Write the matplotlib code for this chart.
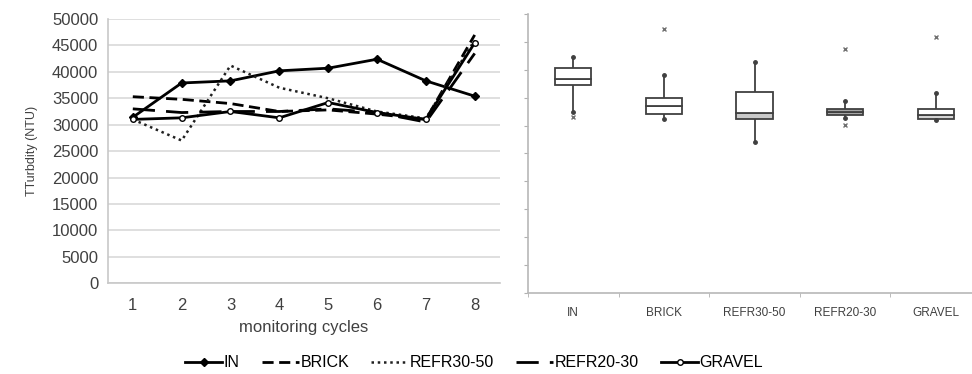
import numpy as np
import matplotlib.pyplot as plt
from matplotlib import font_manager

plt.rcParams['font.family'] = ['Liberation Sans', 'DejaVu Sans']

# monitoring cycles and turbidity per medium (NTU)
cycles = [1, 2, 3, 4, 5, 6, 7, 8]
turb_in = [31400, 37900, 38300, 40200, 40700, 42400, 38300, 35400]
turb_brick = [35300, 34800, 34000, 32500, 32800, 32000, 31000, 47000]
turb_refr3050 = [31000, 27000, 41200, 37000, 35000, 32500, 31200, 46000]
turb_refr2030 = [33000, 32300, 32500, 32500, 33000, 32300, 30500, 43500]
turb_gravel = [31000, 31300, 32500, 31300, 34200, 32300, 31000, 45500]

# box plot statistics
box_names = ["IN", "BRICK", "REFR30-50", "REFR20-30", "GRAVEL"]
whis_lo = [32400, 31200, 27100, 31300, 30900]
q1 = [37300, 32100, 31200, 31800, 31200]
med = [38300, 33500, 32200, 32400, 31900]
q3 = [40400, 35000, 36000, 33000, 33000]
whis_hi = [42300, 39000, 41400, 34400, 35800]
outliers = [[31600], [47300], [], [43800, 30100], [45900]]
low_fill = ["white", "white", "#c9c9c9", "#a6a6a6", "#d4d4d4"]
up_fill = ["white", "white", "white", "#a6a6a6", "white"]

# legend uses a narrow face if one is around
names = {f.name for f in font_manager.fontManager.ttflist}
if "Liberation Sans Narrow" in names:
    leg_font = dict(family="Liberation Sans Narrow", size=13)
else:
    leg_font = dict(family="Liberation Sans", size=11.5)

fig = plt.figure(figsize=(9.72, 3.74), dpi=100)

# ---- left: line chart
ax = fig.add_axes([0.111, 0.243, 0.403, 0.706])
ax.plot(cycles, turb_in, color="black", lw=2, marker="D", ms=4, label="IN")
ax.plot(cycles, turb_brick, color="black", lw=2, dashes=(4, 2), label="BRICK")
ax.plot(cycles, turb_refr3050, color="#202020", lw=1.8, dashes=(1, 1.5), label="REFR30-50")
ax.plot(cycles, turb_refr2030, color="black", lw=2, dashes=(8, 4), label="REFR20-30")
ax.plot(cycles, turb_gravel, color="black", lw=2, marker="o", ms=4, mfc="white", label="GRAVEL")
ax.set_xlim(0.49, 8.51)
ax.set_ylim(0, 50000)
ax.set_yticks(np.arange(0, 50001, 5000))
ax.set_xticks(cycles)
ax.grid(axis="y", color="#d9d9d9", lw=1.2)
ax.set_axisbelow(True)
for s in ["top", "right"]:
    ax.spines[s].set_visible(False)
for s in ["left", "bottom"]:
    ax.spines[s].set_color("#c8c8c8")
    ax.spines[s].set_linewidth(1.2)
ax.tick_params(length=0, labelsize=12, colors="#404040", pad=7)
ax.tick_params(axis="x", pad=11)
ax.set_xlabel("monitoring cycles", fontsize=12, color="#404040", labelpad=5)
ax.set_ylabel("TTurbdity (NTU)", fontsize=9, color="#404040", labelpad=10)

fig.legend(*ax.get_legend_handles_labels(), loc="center", bbox_to_anchor=(0.488, 0.03),
           ncol=5, frameon=False, prop=leg_font, handlelength=2.3, handletextpad=0.1,
           columnspacing=1.4)

# ---- right: box plots
bx = fig.add_axes([0.5432, 0.2174, 0.4568, 0.745])
pos = np.arange(len(box_names))
w = 0.4
edge = "#404040"
bx.bar(pos, np.array(med) - np.array(q1), bottom=q1, width=w, color=low_fill,
       edgecolor=edge, lw=1.3, zorder=3)
bx.bar(pos, np.array(q3) - np.array(med), bottom=med, width=w, color=up_fill,
       edgecolor=edge, lw=1.3, zorder=3)
bx.vlines(pos, whis_lo, q1, color=edge, lw=1.3, zorder=2)
bx.vlines(pos, q3, whis_hi, color=edge, lw=1.3, zorder=2)
bx.plot(pos, whis_lo, ls="none", marker="o", ms=2.5, color=edge, zorder=4)
bx.plot(pos, whis_hi, ls="none", marker="o", ms=2.5, color=edge, zorder=4)
for i, outs in enumerate(outliers):
    bx.plot([pos[i]] * len(outs), outs, ls="none", marker="x", ms=3.5, mew=1,
            color="#707070", zorder=4)
bx.set_xlim(-0.5, 4.4)
bx.set_ylim(0, 50000)
bx.set_yticks(np.arange(0, 50001, 5000))
bx.set_yticklabels([])
bx.set_xticks(pos)
bx.set_xticklabels(box_names, fontsize=8.5, color="#404040")
bx.set_xticks(np.arange(-0.5, 4.0, 1.0), minor=True)
bx.tick_params(axis="x", which="major", length=0, pad=10)
bx.tick_params(axis="x", which="minor", length=3, color="#b0b0b0")
bx.tick_params(axis="y", length=3, color="#b0b0b0")
for s in ["top", "right"]:
    bx.spines[s].set_visible(False)
for s in ["left", "bottom"]:
    bx.spines[s].set_color("#b8b8b8")
    bx.spines[s].set_linewidth(1.2)

fig.savefig("out.png", dpi=100)
